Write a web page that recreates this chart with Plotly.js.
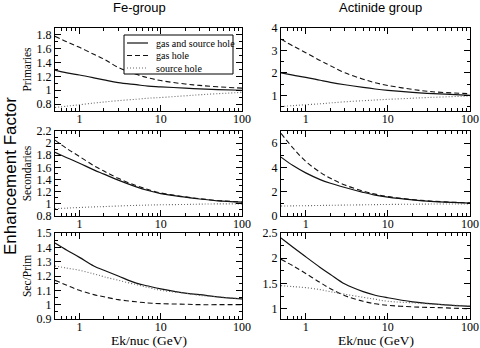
<!DOCTYPE html>
<html><head><meta charset="utf-8">
<script src="https://cdn.plot.ly/plotly-3.0.1.min.js"></script>
<style>html,body{margin:0;padding:0;background:#fff}#chart{width:480px;height:348px}</style>
</head><body><div id="chart"></div>
<script>
// Energy grid (Ek/nuc, GeV)
const energy = [0.5, 0.7, 1, 1.5, 2, 3, 5, 7, 10, 20, 30, 50, 100];
const seriesNames = ['gas and source hole', 'gas hole', 'source hole'];
const columnTitles = ['Fe-group', 'Actinide group'];
const rowTitles = ['Primaries', 'Secondaries', 'Sec/Prim'];
const xTickVals = [1, 10, 100];
const xTickText = ['1', '10', '100'];

// Fe-group, Primaries
const fePrimBoth = [1.29, 1.25, 1.22, 1.18, 1.15, 1.11, 1.08, 1.06, 1.05, 1.03, 1.02, 1.01, 1.0];
const fePrimGas  = [1.78, 1.70, 1.62, 1.52, 1.45, 1.33, 1.23, 1.18, 1.14, 1.09, 1.07, 1.05, 1.03];
const fePrimSrc  = [0.75, 0.77, 0.79, 0.815, 0.83, 0.85, 0.87, 0.885, 0.895, 0.92, 0.935, 0.95, 0.97];
// Actinide group, Primaries
const acPrimBoth = [2.0, 1.9, 1.8, 1.67, 1.58, 1.47, 1.35, 1.28, 1.22, 1.13, 1.09, 1.05, 1.0];
const acPrimGas  = [3.5, 3.2, 2.9, 2.55, 2.32, 2.0, 1.72, 1.56, 1.44, 1.26, 1.18, 1.12, 1.07];
const acPrimSrc  = [0.5, 0.54, 0.58, 0.62, 0.66, 0.71, 0.76, 0.79, 0.82, 0.87, 0.9, 0.93, 0.97];
// Fe-group, Secondaries
const feSecBoth = [1.85, 1.76, 1.67, 1.56, 1.49, 1.39, 1.28, 1.22, 1.17, 1.11, 1.08, 1.05, 1.03];
const feSecGas  = [2.05, 1.91, 1.78, 1.63, 1.54, 1.42, 1.30, 1.235, 1.18, 1.115, 1.085, 1.055, 1.03];
const feSecSrc  = [0.92, 0.93, 0.94, 0.95, 0.955, 0.965, 0.975, 0.98, 0.985, 0.99, 0.995, 1.0, 1.0];
// Actinide group, Secondaries
const acSecBoth = [4.85, 4.15, 3.55, 3.0, 2.7, 2.35, 1.95, 1.72, 1.55, 1.32, 1.22, 1.14, 1.06];
const acSecGas  = [6.8, 5.6, 4.5, 3.6, 3.1, 2.55, 2.05, 1.8, 1.6, 1.35, 1.25, 1.16, 1.08];
const acSecSrc  = [0.82, 0.835, 0.85, 0.87, 0.88, 0.9, 0.92, 0.935, 0.95, 0.97, 0.98, 0.99, 1.0];
// Fe-group, Sec/Prim
const feRatioBoth = [1.43, 1.38, 1.33, 1.27, 1.24, 1.20, 1.15, 1.13, 1.11, 1.08, 1.07, 1.055, 1.04];
const feRatioGas  = [1.17, 1.135, 1.10, 1.07, 1.055, 1.035, 1.02, 1.012, 1.007, 1.003, 1.0, 1.0, 1.0];
const feRatioSrc  = [1.27, 1.255, 1.24, 1.215, 1.195, 1.17, 1.14, 1.12, 1.10, 1.08, 1.065, 1.055, 1.04];
// Actinide group, Sec/Prim
const acRatioBoth = [2.4, 2.22, 2.03, 1.82, 1.68, 1.49, 1.34, 1.27, 1.22, 1.14, 1.11, 1.08, 1.05];
const acRatioGas  = [1.98, 1.85, 1.70, 1.52, 1.40, 1.26, 1.15, 1.10, 1.07, 1.04, 1.03, 1.02, 1.0];
const acRatioSrc  = [1.46, 1.44, 1.42, 1.38, 1.34, 1.29, 1.23, 1.19, 1.15, 1.12, 1.10, 1.08, 1.06];

const panels = [
  [fePrimBoth, fePrimGas, fePrimSrc],
  [acPrimBoth, acPrimGas, acPrimSrc],
  [feSecBoth, feSecGas, feSecSrc],
  [acSecBoth, acSecGas, acSecSrc],
  [feRatioBoth, feRatioGas, feRatioSrc],
  [acRatioBoth, acRatioGas, acRatioSrc]
];

const W = 480, H = 348;
const colPx = [[55, 242], [281, 470]];
const rowPx = [[28, 111], [131, 216], [233, 319]];
const yRanges = [[0.7, 1.9], [0.3, 4], [0.8, 2.2], [0, 7], [0.9, 1.5], [0.8, 2.5]];
const yDticks = [0.2, 1, 0.2, 2, 0.1, 0.5];
const yMinor = [0.1, 0.5, 0.1, 1, 0.05, 0.25];

const styles = [
  {color: '#111', width: 1.2, dash: 'solid'},
  {color: '#111', width: 1.1, dash: '5px,3px'},
  {color: '#666', width: 1.1, dash: '1px,2px'}
];

const serif = '"Liberation Serif", "Times New Roman", serif';
const sans = '"Liberation Sans", Arial, sans-serif';

const minorX = [];
[0.1, 1, 10].forEach(d => { for (let k = 2; k <= 9; k++) { const v = k * d; if (v >= 0.5 && v < 100) minorX.push(v); } });

const traces = [];
const layout = {
  width: W, height: H,
  margin: {l: 0, r: 0, t: 0, b: 0},
  paper_bgcolor: '#fff', plot_bgcolor: '#fff',
  showlegend: false,
  annotations: [], shapes: []
};

panels.forEach((p, i) => {
  const col = i % 2, row = Math.floor(i / 2);
  const n = i === 0 ? '' : String(i + 1);
  p.forEach((vals, s) => {
    traces.push({
      x: energy, y: vals, type: 'scatter', mode: 'lines',
      line: Object.assign({shape: 'spline', smoothing: 1}, styles[s]),
      name: seriesNames[s], showlegend: false,
      xaxis: 'x' + n, yaxis: 'y' + n, hoverinfo: 'skip'
    });
  });
  const common = {
    showline: true, linecolor: '#000', linewidth: 1, mirror: 'allticks',
    ticks: 'inside', ticklen: 6, tickcolor: '#000', tickwidth: 1,
    showgrid: false, zeroline: false,
    tickfont: {family: serif, size: 12, color: '#000'}
  };
  layout['xaxis' + n] = Object.assign({}, common, {
    type: 'log', range: [Math.log10(0.5), 2],
    domain: [colPx[col][0] / W, colPx[col][1] / W],
    anchor: 'y' + n, tickvals: xTickVals, ticktext: xTickText,
    ticklabelstandoff: -3,
    minor: {tickvals: minorX, ticks: 'inside', ticklen: 3, tickcolor: '#000', showgrid: false}
  });
  layout['yaxis' + n] = Object.assign({}, common, {
    range: yRanges[i],
    domain: [1 - rowPx[row][1] / H, 1 - rowPx[row][0] / H],
    anchor: 'x' + n, dtick: yDticks[i], tick0: 0,
    minor: {dtick: yMinor[i], tick0: 0, ticks: 'inside', ticklen: 3, tickcolor: '#000', showgrid: false}
  });
  if (col === 0) {
    layout['yaxis' + n].title = {
      text: rowTitles[row], standoff: 2,
      font: {family: serif, size: 11.5, color: '#000'}
    };
  }
  if (row === 2) {
    layout.annotations.push({
      text: 'Ek/nuc (GeV)', xref: 'paper', yref: 'paper',
      x: (colPx[col][0] + colPx[col][1]) / 2 / W, y: 1 - 340 / H,
      xanchor: 'center', yanchor: 'middle', showarrow: false,
      font: {family: serif, size: 13.5, color: '#000'}
    });
  }
});

// Legend drawn inside the top-left panel
const legBox = {x0: 124, x1: 233, y0: 35, y1: 74};
layout.shapes.push({
  type: 'rect', xref: 'paper', yref: 'paper',
  x0: legBox.x0 / W, x1: legBox.x1 / W, y0: 1 - legBox.y1 / H, y1: 1 - legBox.y0 / H,
  line: {color: '#000', width: 1}, fillcolor: '#fff', layer: 'above'
});
seriesNames.forEach((name, s) => {
  const yy = 43 + s * 12.5;
  layout.shapes.push({
    type: 'line', xref: 'paper', yref: 'paper',
    x0: 127 / W, x1: 148 / W, y0: 1 - yy / H, y1: 1 - yy / H,
    line: styles[s], layer: 'above'
  });
  layout.annotations.push({
    text: name, xref: 'paper', yref: 'paper', x: 154 / W, y: 1 - yy / H,
    xanchor: 'left', yanchor: 'middle', showarrow: false,
    font: {family: serif, size: 10, color: '#000'}
  });
});

layout.annotations.push({
  text: columnTitles[0], xref: 'paper', yref: 'paper', x: 139 / W, y: 1 - 8 / H,
  xanchor: 'center', yanchor: 'middle', showarrow: false,
  font: {family: sans, size: 13, color: '#000'}
});
layout.annotations.push({
  text: columnTitles[1], xref: 'paper', yref: 'paper', x: 380 / W, y: 1 - 8 / H,
  xanchor: 'center', yanchor: 'middle', showarrow: false,
  font: {family: sans, size: 13, color: '#000'}
});
layout.annotations.push({
  text: 'Enhancement Factor', xref: 'paper', yref: 'paper', textangle: -90,
  x: 10 / W, y: 1 - 176 / H, xanchor: 'center', yanchor: 'middle', showarrow: false,
  font: {family: sans, size: 17, color: '#000'}
});

Plotly.newPlot('chart', traces, layout, {staticPlot: true, displayModeBar: false});
</script></body></html>
